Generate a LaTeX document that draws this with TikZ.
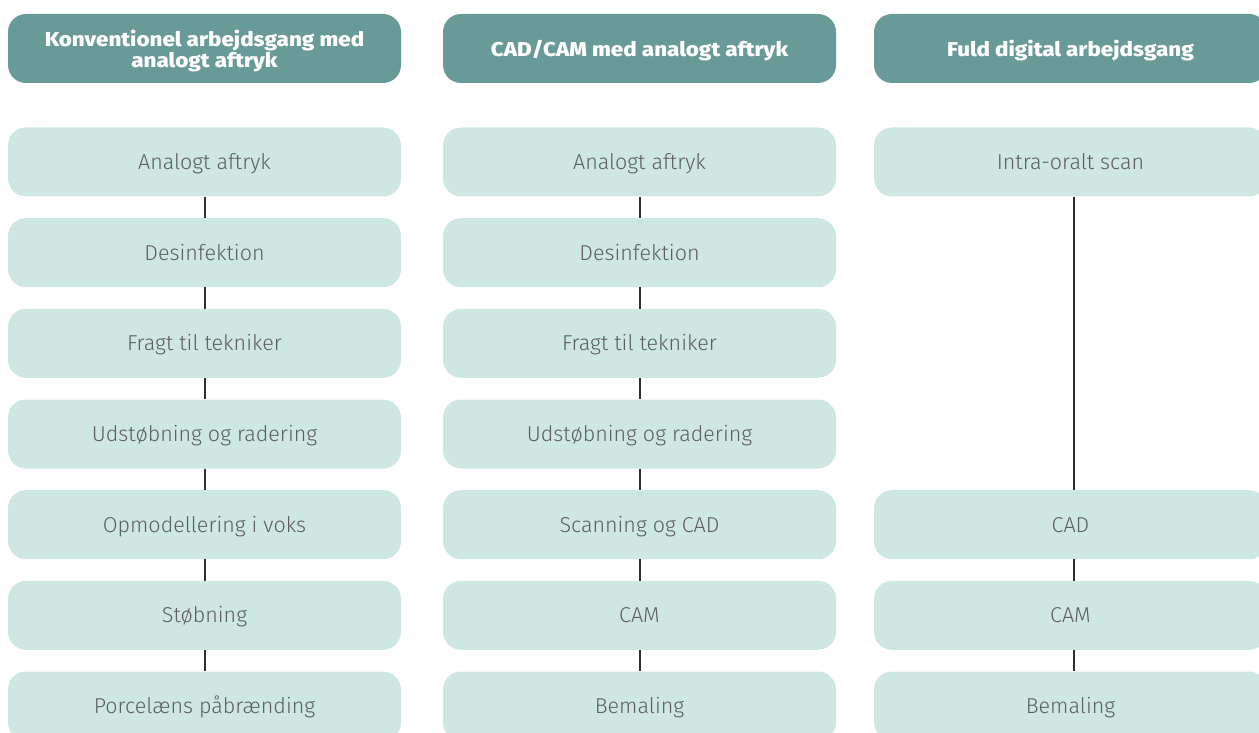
\documentclass[tikz,border=0pt]{standalone}
\usepackage{fontspec}
\setmainfont{Fira Sans}[UprightFont={* Light}, BoldFont={* Bold}]
\newfontfamily\headfont{Fira Sans}[UprightFont={* ExtraBold}, FakeStretch=1.12]
\definecolor{headc}{HTML}{689A97}
\definecolor{boxc}{HTML}{CEE7E3}
\definecolor{textc}{HTML}{5E5E5E}
\definecolor{linec}{HTML}{2E2E2E}
\begin{document}
\begin{tikzpicture}[x=1pt,y=-1pt,
  head/.style={rounded corners=18pt, fill=headc, minimum width=393pt, minimum height=69pt,
    inner sep=0pt, text=white, align=center, font=\headfont\fontsize{20}{21.5}\selectfont},
  headtext/.style={text=white, align=center, inner sep=0pt, font=\headfont\fontsize{20}{21.5}\selectfont},
  stepbox/.style={rounded corners=18pt, fill=boxc, minimum width=393pt, minimum height=69pt,
    inner sep=0pt, text=textc, text height=15pt, text depth=0pt, font=\fontsize{21.5}{24}\selectfont},
  link/.style={draw=linec, line width=2pt}]
\useasboundingbox (0,0) rectangle (1259,733);
\clip (0,0) rectangle (1259,733);

% column headers (boxes, with their titles set slightly below centre)
\node[head] (h1) at (204.5,48.5) {};
\node[head] (h2) at (639.5,48.5) {};
\node[head] (h3) at (1070.5,48.5) {};
\node[headtext] (t1) at ([yshift=-2.5pt]h1.center) {Konventionel arbejdsgang med\\analogt aftryk};
\node[headtext] (t2) at ([yshift=-2.5pt]h2.center) {CAD/CAM med analogt aftryk};
\node[headtext] (t3) at ([yshift=-2.5pt]h3.center) {Fuld digital arbejdsgang};

% first column: conventional workflow
\node[stepbox] (a1) at (204.5,162) {Analogt aftryk};
\node[stepbox] (a2) at (204.5,252.7) {Desinfektion};
\node[stepbox] (a3) at (204.5,343.3) {Fragt til tekniker};
\node[stepbox] (a4) at (204.5,434) {Udstøbning og radering};
\node[stepbox] (a5) at (204.5,524.7) {Opmodellering i voks};
\node[stepbox] (a6) at (204.5,615.3) {Støbning};
\node[stepbox] (a7) at (204.5,706) {Porcelæns påbrænding};

% second column: CAD/CAM with analog impression
\node[stepbox] (b1) at (639.5,162) {Analogt aftryk};
\node[stepbox] (b2) at (639.5,252.7) {Desinfektion};
\node[stepbox] (b3) at (639.5,343.3) {Fragt til tekniker};
\node[stepbox] (b4) at (639.5,434) {Udstøbning og radering};
\node[stepbox] (b5) at (639.5,524.7) {Scanning og CAD};
\node[stepbox] (b6) at (639.5,615.3) {CAM};
\node[stepbox] (b7) at (639.5,706) {Bemaling};

% third column: fully digital workflow
\node[stepbox] (c1) at (1070.5,162) {Intra-oralt scan};
\node[stepbox] (c5) at (1070.5,524.7) {CAD};
\node[stepbox] (c6) at (1070.5,615.3) {CAM};
\node[stepbox] (c7) at (1070.5,706) {Bemaling};

% connectors
\foreach \c in {a,b}{
  \foreach \i [evaluate=\i as \j using int(\i+1)] in {1,...,6}{
    \draw[link] (\c\i.south) -- (\c\j.north);
  }
}
\draw[link] ([xshift=3.5pt]c1.south) -- ([xshift=3.5pt]c5.north);
\draw[link] ([xshift=3.5pt]c5.south) -- ([xshift=3.5pt]c6.north);
\draw[link] ([xshift=3.5pt]c6.south) -- ([xshift=3.5pt]c7.north);
\end{tikzpicture}
\end{document}
